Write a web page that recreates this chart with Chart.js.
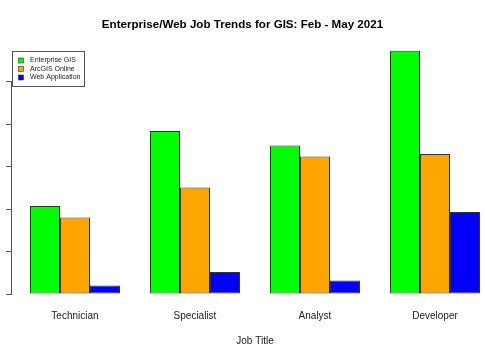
<!DOCTYPE html>
<html>
<head>
<meta charset="utf-8">
<title>Enterprise/Web Job Trends for GIS</title>
<script src="https://cdn.jsdelivr.net/npm/chart.js@4/dist/chart.umd.min.js"></script>
<style>
    body { margin: 0; background: #fff; }
    canvas { display: block; }
</style>
</head>
<body>
<canvas id="chart" width="485" height="360"></canvas>
<script>
// Data
const jobTitles = ['Technician', 'Specialist', 'Analyst', 'Developer'];
const enterpriseGIS = [20.7, 38.4, 35.0, 57.3];
const arcgisOnline = [18.0, 25.1, 32.4, 33.0];
const webApplication = [2.0, 5.2, 3.2, 19.3];
const seriesNames = ['Enterprise GIS', 'ArcGIS Online', 'Web Application'];
const seriesColors = ['#00FF00', '#FFA500', '#0000FF'];

const fontFamily = '"Liberation Sans", Arial, Helvetica, sans-serif';

// R style boxed legend in the top left corner
const boxLegend = {
    id: 'boxLegend',
    afterDraw(chart) {
        const ctx = chart.ctx;
        ctx.save();
        ctx.fillStyle = '#fff';
        ctx.fillRect(12, 51, 72, 35);
        ctx.strokeStyle = '#555';
        ctx.lineWidth = 1;
        ctx.strokeRect(12.5, 51.5, 72, 35);
        ctx.font = '7px ' + fontFamily;
        ctx.textBaseline = 'middle';
        chart.data.datasets.forEach((ds, i) => {
            const y = 60.5 + i * 8.5;
            ctx.fillStyle = ds.backgroundColor;
            ctx.fillRect(18.5, y - 2.5, 5, 5);
            ctx.strokeStyle = '#333';
            ctx.lineWidth = 0.6;
            ctx.strokeRect(18.5, y - 2.5, 5, 5);
            ctx.fillStyle = '#222';
            ctx.fillText(ds.label, 30, y);
        });
        ctx.restore();
    }
};

const datasets = [enterpriseGIS, arcgisOnline, webApplication].map((values, i) => ({
    label: seriesNames[i],
    data: values,
    backgroundColor: seriesColors[i],
    borderColor: '#333',
    borderWidth: 1,
    borderSkipped: false,
    categoryPercentage: 0.75,
    barPercentage: 1.0,
    clip: false
}));

// empty side boxes so the plot sits where R put it while the title stays centred
const spacer = (pos, w) => ({
    position: pos,
    display: true,
    ticks: { display: false },
    grid: { display: false, drawTicks: false },
    border: { display: false },
    afterFit: s => { s.width = w; }
});

new Chart(document.getElementById('chart').getContext('2d'), {
    type: 'bar',
    data: { labels: jobTitles, datasets: datasets },
    options: {
        responsive: false,
        animation: false,
        layout: { padding: { left: 0, right: 0, top: 0, bottom: 12.5 } },
        plugins: {
            legend: { display: false },
            tooltip: { enabled: false },
            title: {
                display: true,
                text: 'Enterprise/Web Job Trends for GIS: Feb - May 2021',
                color: '#000',
                font: { family: fontFamily, size: 11.6, weight: 'bold', lineHeight: 1.2 },
                padding: { top: 18, bottom: 49.8 }
            }
        },
        scales: {
            x: {
                offset: false,
                grid: { display: false, drawTicks: true, tickLength: 16.5 },
                border: { display: false },
                ticks: {
                    color: '#222',
                    padding: 0,
                    maxRotation: 0,
                    autoSkip: false,
                    font: { family: fontFamily, size: 10, lineHeight: 1.2 }
                },
                title: {
                    display: true,
                    text: 'Job Title',
                    color: '#222',
                    font: { family: fontFamily, size: 10, lineHeight: 1.2 },
                    padding: { top: 13, bottom: 0 }
                }
            },
            y: {
                position: { x: -0.529 },
                min: 0,
                max: 50,
                ticks: { display: false, stepSize: 10 },
                grid: {
                    drawOnChartArea: false,
                    drawTicks: true,
                    tickLength: 5,
                    tickColor: '#555'
                },
                border: { display: true, color: '#555', width: 1 }
            },
            padLeft: spacer('left', 75),
            padRight: spacer('right', 50)
        }
    },
    plugins: [boxLegend]
});
</script>
</body>
</html>
